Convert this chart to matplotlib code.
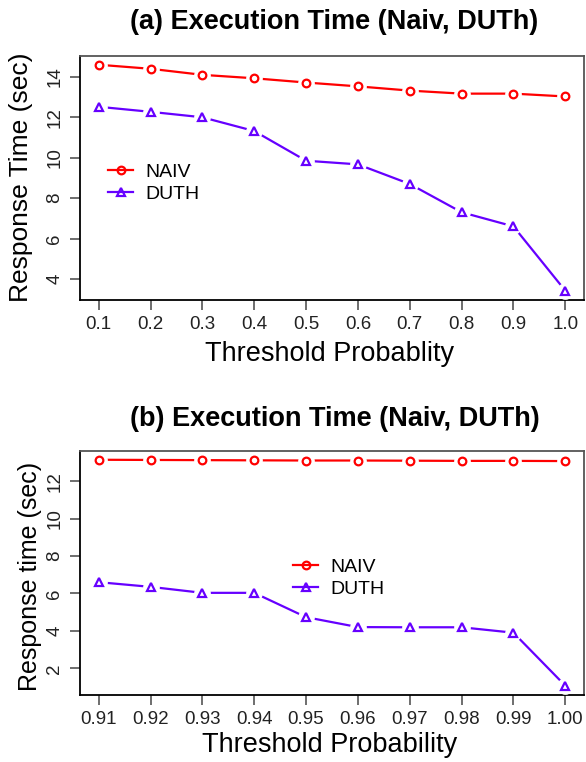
import matplotlib
matplotlib.use("Agg")
import matplotlib.pyplot as plt

plt.rcParams['font.family'] = ['Liberation Sans', 'DejaVu Sans']

# panel (a)
thr_a = [0.1, 0.2, 0.3, 0.4, 0.5, 0.6, 0.7, 0.8, 0.9, 1.0]
thr_a_labels = ["0.1", "0.2", "0.3", "0.4", "0.5", "0.6", "0.7", "0.8", "0.9", "1.0"]
naiv_a = [14.6, 14.4, 14.1, 13.93, 13.72, 13.53, 13.32, 13.17, 13.17, 13.03]
duth_a = [12.52, 12.27, 12.0, 11.32, 9.85, 9.67, 8.7, 7.3, 6.6, 3.42]

# panel (b)
thr_b = [0.91, 0.92, 0.93, 0.94, 0.95, 0.96, 0.97, 0.98, 0.99, 1.00]
thr_b_labels = ["0.91", "0.92", "0.93", "0.94", "0.95", "0.96", "0.97", "0.98", "0.99", "1.00"]
naiv_b = [13.14, 13.13, 13.12, 13.11, 13.1, 13.1, 13.09, 13.08, 13.08, 13.07]
duth_b = [6.6, 6.35, 6.03, 6.03, 4.73, 4.2, 4.19, 4.19, 3.9, 1.07]

RED = "#ff0000"
PURPLE = "#6600ff"


def series(ax, x, y, color, marker, label):
    # R type="b": line with a gap round each point
    ax.plot(x, y, color=color, lw=1.6, zorder=2)
    ax.plot(x, y, ls="none", marker="o", ms=11, mfc="white", mec="white", zorder=3)
    ax.plot(x, y, ls="none", marker=marker, ms=5.5, mfc="none", mec=color, mew=1.6, zorder=4)
    # legend handle
    ax.plot([], [], color=color, lw=1.6, marker=marker, ms=5.5, mfc="none", mec=color,
            mew=1.6, label=label)


def panel(rect, x, labels, naiv, duth, yticks, legend_pos):
    ax = fig.add_axes(rect)
    series(ax, x, naiv, RED, "o", "NAIV")
    series(ax, x, duth, PURPLE, "^", "DUTH")
    lo = min(duth)
    hi = max(naiv)
    pad = (hi - lo) * 0.04
    ax.set_ylim(lo - pad, hi + pad)
    xpad = (x[-1] - x[0]) * 0.04
    ax.set_xlim(x[0] - xpad, x[-1] + xpad)
    ax.set_xticks(x)
    ax.set_xticklabels(labels, fontsize=13.5, color="#222222")
    ax.set_yticks(yticks)
    ax.set_yticklabels([str(t) for t in yticks], fontsize=13.5, rotation=90,
                       va="center", color="#222222")
    ax.tick_params(direction="out", length=7, width=1.2, color="#555555", pad=5)
    for s in ["left", "bottom"]:
        ax.spines[s].set_color("black")
        ax.spines[s].set_linewidth(1.3)
    for s in ["top", "right"]:
        ax.spines[s].set_color("#555555")
        ax.spines[s].set_linewidth(1.3)
    ax.legend(loc="upper left", bbox_to_anchor=legend_pos, frameon=False,
              fontsize=14, handlelength=1.3, handletextpad=0.65,
              labelspacing=0.2, borderaxespad=0)
    return ax


fig = plt.figure(figsize=(5.86, 7.62), dpi=100)

panel([0.1365, 0.6067, 0.86, 0.3202], thr_a, thr_a_labels, naiv_a, duth_a,
      [4, 6, 8, 10, 12, 14], (0.04, 0.59))
fig.text(0.571, 0.971, "(a) Execution Time (Naiv, DUTh)", ha="center", va="center",
         fontsize=19.5, fontweight="bold")
fig.text(0.036, 0.768, "Response Time (sec)", rotation=90, ha="center", va="center",
         fontsize=19)
fig.text(0.563, 0.536, "Threshold Probablity", ha="center", va="center", fontsize=19.5)

panel([0.1365, 0.0883, 0.86, 0.3202], thr_b, thr_b_labels, naiv_b, duth_b,
      [2, 4, 6, 8, 10, 12], (0.407, 0.59))
fig.text(0.571, 0.45, "(b) Execution Time (Naiv, DUTh)", ha="center", va="center",
         fontsize=19.5, fontweight="bold")
fig.text(0.051, 0.243, "Response time (sec)", rotation=90, ha="center", va="center",
         fontsize=18)
fig.text(0.563, 0.022, "Threshold Probability", ha="center", va="center", fontsize=19.5)

fig.savefig("out.png", dpi=100)
